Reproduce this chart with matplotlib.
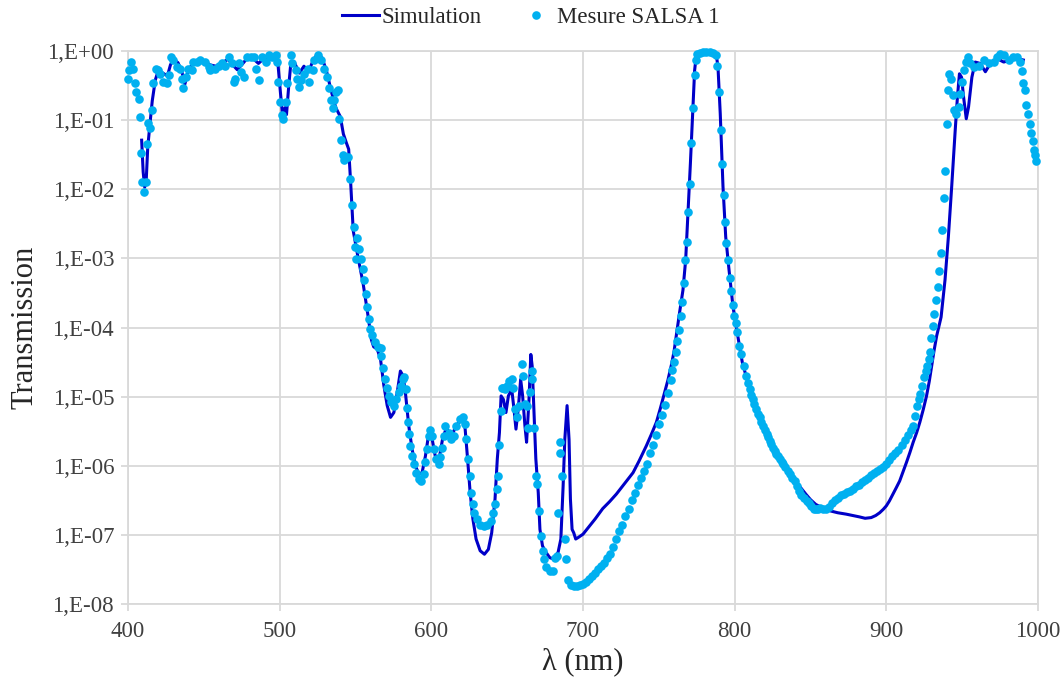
import numpy as np
import matplotlib.pyplot as plt

# Simulation curve: wavelength (nm) and log10 of transmission
sim_wl = [409.0, 410.0, 411.0, 412.0, 413.0, 414.5, 416.0, 418.0, 420.0, 423.0,
          426.0, 428.0, 430.0, 433.0, 435.5, 437.5, 439.5, 442.0, 446.0, 450.0,
          454.0, 458.0, 462.0, 466.0, 469.0, 472.0, 475.0, 478.0, 482.0, 486.0,
          489.0, 493.0, 497.0, 499.0, 500.5, 502.0, 503.5, 504.5, 506.0, 507.5,
          510.0, 513.0, 516.0, 519.0, 522.0, 525.0, 528.0, 531.0, 534.0, 537.0,
          540.0, 542.0, 544.0, 545.5, 546.8, 548.5, 551.8, 555.0, 558.4, 560.5,
          562.0, 564.3, 566.5, 568.7, 570.9, 573.1, 575.3, 577.5, 579.6, 581.4,
          582.9, 585.1, 587.3, 589.5, 591.7, 593.9, 596.1, 598.0, 600.0, 602.5,
          605.0, 607.5, 610.0, 613.0, 616.5, 620.8, 622.3, 623.9, 625.6, 627.4,
          629.5, 632.2, 635.0, 637.6, 639.8, 642.0, 643.5, 644.9, 646.0, 647.5,
          649.2, 650.8, 653.0, 654.5, 655.8, 657.3, 658.9, 660.2, 661.7, 662.8,
          664.4, 665.6, 666.5, 667.6, 668.9, 670.5, 671.6, 673.3, 675.5, 678.1,
          680.7, 683.6, 685.4, 686.9, 688.0, 689.5, 690.8, 691.7, 692.8, 693.9,
          695.2, 696.7, 700.0, 704.0, 708.0, 713.0, 717.5, 722.0, 727.0, 733.0,
          737.0, 741.8, 745.0, 748.4, 751.0, 753.8, 756.0, 758.2, 760.0, 761.5,
          763.7, 765.9, 767.7, 769.2, 770.8, 772.5, 773.6, 774.7, 776.9, 785.7,
          787.9, 789.0, 790.5, 792.3, 794.1, 796.3, 798.9, 801.1, 805.0, 810.0,
          815.0, 820.0, 825.0, 830.0, 835.0, 840.0, 846.9, 850.0, 853.5, 858.0,
          862.4, 868.0, 873.5, 878.0, 882.3, 886.0, 890.0, 893.0, 895.6, 898.0,
          900.0, 902.0, 904.4, 906.5, 908.8, 911.0, 913.3, 915.5, 917.7, 920.0,
          922.1, 924.3, 926.5, 928.3, 929.9, 931.5, 933.2, 936.1, 938.7, 940.9,
          943.1, 945.4, 946.9, 948.2, 949.6, 950.9, 952.7, 954.2, 956.4, 958.6,
          961.9, 965.3, 968.6, 973.0, 977.4, 981.9, 986.3, 990.3]
sim_log = [-1.29, -1.75, -1.97, -1.88, -1.40, -1.05, -0.72, -0.42, -0.28, -0.32,
           -0.36, -0.20, -0.12, -0.17, -0.30, -0.48, -0.30, -0.20, -0.15, -0.14,
           -0.20, -0.22, -0.17, -0.12, -0.20, -0.27, -0.20, -0.12, -0.10, -0.18,
           -0.12, -0.08, -0.06, -0.22, -0.60, -0.95, -0.82, -0.92, -0.50, -0.15,
           -0.18, -0.32, -0.22, -0.30, -0.14, -0.04, -0.10, -0.30, -0.58, -0.82,
           -0.95, -1.20, -1.33, -1.42, -1.90, -2.60, -3.00, -3.36, -3.85, -4.18,
           -4.28, -4.31, -4.46, -4.84, -5.13, -5.30, -5.23, -4.94, -4.63, -4.70,
           -4.94, -5.42, -5.76, -6.00, -6.12, -6.10, -5.86, -5.58, -5.55, -5.85,
           -5.92, -5.60, -5.45, -5.58, -5.42, -5.30, -5.47, -5.90, -6.39, -6.77,
           -7.06, -7.23, -7.28, -7.21, -6.97, -6.48, -5.90, -5.52, -4.99, -5.04,
           -5.23, -4.99, -4.89, -5.18, -5.47, -5.18, -4.75, -4.99, -5.42, -5.66,
           -5.04, -4.39, -4.56, -5.18, -5.90, -6.39, -6.92, -7.16, -7.25, -7.33,
           -7.35, -7.25, -7.06, -6.29, -5.62, -5.13, -5.62, -6.48, -6.92, -6.97,
           -7.06, -7.04, -6.99, -6.88, -6.77, -6.62, -6.52, -6.41, -6.27, -6.10,
           -5.93, -5.71, -5.55, -5.37, -5.17, -4.94, -4.76, -4.55, -4.35, -4.12,
           -3.78, -3.46, -3.02, -2.35, -1.63, -0.81, -0.28, -0.06, -0.01, -0.01,
           -0.06, -0.23, -0.91, -1.96, -2.69, -3.17, -3.70, -4.00, -4.50, -4.90,
           -5.25, -5.50, -5.72, -5.87, -6.05, -6.22, -6.41, -6.49, -6.56, -6.61,
           -6.65, -6.68, -6.70, -6.72, -6.74, -6.76, -6.75, -6.72, -6.68, -6.63,
           -6.58, -6.51, -6.41, -6.32, -6.22, -6.09, -5.95, -5.81, -5.66, -5.52,
           -5.37, -5.19, -4.99, -4.78, -4.55, -4.33, -4.12, -3.85, -3.31, -2.69,
           -1.96, -1.15, -0.66, -0.33, -0.38, -0.66, -0.98, -0.81, -0.38, -0.16,
           -0.18, -0.30, -0.18, -0.11, -0.16, -0.13, -0.11, -0.13]

# Measurement "Mesure SALSA 1": wavelength (nm) and log10 of transmission
mes_wl = [400.0, 400.7, 402.2, 403.3, 404.4, 405.5, 407.1, 407.7, 408.8, 409.3,
          410.6, 411.7, 412.8, 413.3, 414.4, 415.9, 416.6, 418.4, 419.9, 421.0,
          422.8, 425.4, 427.2, 428.3, 429.9, 432.1, 434.3, 435.4, 436.5, 438.3,
          439.8, 442.0, 443.1, 445.4, 447.6, 450.9, 453.1, 454.2, 457.5, 459.7,
          462.0, 464.2, 466.4, 468.6, 469.7, 470.8, 473.0, 474.8, 476.3, 478.5,
          480.8, 483.0, 484.5, 486.3, 488.5, 490.7, 492.9, 495.1, 497.3, 498.5,
          499.1, 500.0, 501.8, 502.4, 504.0, 505.1, 507.3, 508.4, 510.6, 511.7,
          512.8, 513.9, 516.2, 518.4, 519.5, 521.7, 522.8, 525.0, 527.2, 529.5,
          531.2, 532.7, 533.8, 534.9, 536.0, 537.2, 538.3, 539.4, 540.5, 541.6,
          542.7, 544.9, 546.7, 547.6, 548.9, 550.8, 549.4, 552.5, 550.2, 553.4,
          554.7, 555.8, 556.7, 557.8, 558.7, 559.5, 560.6, 562.8, 565.0, 566.5,
          567.0, 568.1, 569.4, 570.5, 572.0, 573.5, 575.3, 577.0, 578.6, 580.1,
          581.4, 582.3, 583.6, 584.0, 584.7, 585.6, 586.2, 587.3, 588.8, 590.2,
          591.7, 593.2, 595.0, 596.1, 597.2, 598.2, 599.3, 600.4, 602.0, 603.3,
          604.8, 605.9, 607.0, 608.1, 609.2, 611.4, 613.1, 614.7, 616.4, 618.6,
          620.6, 621.9, 623.0, 624.1, 625.2, 626.0, 627.4, 628.4, 630.0, 632.2,
          634.4, 637.0, 639.2, 640.9, 642.0, 643.1, 643.8, 644.9, 645.7, 646.4,
          647.5, 648.6, 649.7, 651.5, 653.0, 654.0, 655.1, 656.7, 658.0, 659.5,
          660.2, 661.7, 662.8, 663.9, 665.0, 666.1, 666.7, 667.6, 668.7, 669.8,
          671.1, 672.0, 673.3, 674.4, 675.9, 678.1, 679.9, 681.4, 683.0, 683.6,
          684.7, 685.1, 686.2, 688.0, 689.1, 690.0, 692.0, 694.0, 696.0, 698.0,
          700.0, 702.0, 704.0, 706.0, 708.0, 710.0, 712.0, 714.0, 716.0, 718.0,
          720.0, 722.0, 724.0, 726.0, 728.0, 730.0, 732.0, 734.0, 736.0, 738.0,
          740.0, 742.0, 744.0, 746.0, 748.0, 750.0, 752.0, 754.0, 756.0, 758.0,
          759.0, 760.0, 761.0, 762.0, 763.0, 764.4, 765.5, 766.6, 767.5, 768.6,
          769.5, 770.3, 771.4, 772.7, 773.8, 774.7, 775.2, 776.9, 779.1, 781.3,
          783.5, 785.7, 787.5, 788.6, 789.7, 790.8, 791.9, 792.7, 793.6, 794.3,
          795.4, 796.7, 797.8, 798.9, 799.8, 800.7, 801.8, 802.9, 804.4, 805.9,
          807.7, 809.0, 810.0, 811.0, 812.0, 813.0, 814.3, 815.5, 816.5, 817.5,
          818.7, 820.0, 821.0, 822.0, 823.0, 824.2, 825.3, 826.5, 827.5, 828.5,
          829.7, 831.0, 832.0, 833.5, 835.0, 836.5, 838.0, 839.5, 841.0, 842.5,
          844.0, 845.8, 847.5, 849.0, 850.5, 852.0, 853.5, 855.0, 856.5, 858.0,
          860.0, 862.0, 864.0, 866.0, 868.0, 870.0, 872.0, 874.0, 876.0, 878.0,
          880.0, 882.0, 884.0, 886.0, 888.0, 890.0, 892.0, 894.0, 896.0, 898.0,
          900.0, 902.0, 904.0, 906.0, 908.0, 910.0, 912.0, 914.0, 916.0, 917.7,
          918.8, 920.4, 921.5, 922.5, 923.7, 925.0, 926.0, 927.0, 928.0, 928.8,
          929.6, 930.5, 931.5, 932.6, 933.8, 935.0, 936.1, 936.9, 937.8, 938.9,
          939.8, 940.5, 941.6, 942.7, 944.2, 944.7, 946.0, 947.6, 948.7, 949.8,
          950.9, 952.7, 953.8, 955.3, 957.5, 960.8, 964.2, 967.5, 970.8, 973.0,
          974.8, 977.4, 980.8, 983.6, 986.3, 988.1, 989.2, 990.3, 991.2, 992.3,
          993.1, 994.5, 995.6, 996.5, 997.3, 998.0, 998.9]
mes_log = [-0.41, -0.28, -0.16, -0.26, -0.47, -0.59, -0.70, -0.96, -1.47, -1.89,
           -2.04, -1.89, -1.34, -1.04, -1.12, -0.86, -0.46, -0.26, -0.28, -0.33,
           -0.45, -0.47, -0.35, -0.09, -0.13, -0.23, -0.26, -0.40, -0.54, -0.38,
           -0.26, -0.28, -0.16, -0.16, -0.13, -0.16, -0.23, -0.28, -0.26, -0.21,
           -0.18, -0.21, -0.09, -0.18, -0.45, -0.40, -0.18, -0.30, -0.38, -0.09,
           -0.09, -0.09, -0.26, -0.42, -0.09, -0.16, -0.06, -0.09, -0.06, -0.16,
           -0.45, -0.74, -0.93, -0.99, -0.74, -0.47, -0.06, -0.18, -0.28, -0.40,
           -0.52, -0.42, -0.33, -0.26, -0.45, -0.28, -0.13, -0.06, -0.13, -0.26,
           -0.38, -0.54, -0.71, -0.83, -0.71, -0.59, -0.57, -0.98, -1.29, -1.51,
           -1.58, -1.53, -1.85, -2.23, -2.54, -2.71, -2.83, -2.87, -3.01, -3.01,
           -3.15, -3.31, -3.52, -3.70, -3.87, -4.02, -4.11, -4.21, -4.28, -4.29,
           -4.41, -4.58, -4.74, -4.87, -4.99, -5.08, -5.13, -5.04, -4.94, -4.85,
           -4.75, -4.72, -4.89, -5.16, -5.37, -5.54, -5.71, -5.86, -5.98, -6.10,
           -6.19, -6.22, -6.12, -5.95, -5.76, -5.57, -5.49, -5.57, -5.76, -5.90,
           -5.98, -5.88, -5.74, -5.57, -5.42, -5.52, -5.62, -5.57, -5.42, -5.33,
           -5.30, -5.40, -5.62, -5.90, -6.15, -6.39, -6.56, -6.68, -6.77, -6.85,
           -6.87, -6.85, -6.80, -6.68, -6.56, -6.34, -6.15, -5.70, -5.21, -4.87,
           -4.87, -4.89, -4.84, -4.77, -4.74, -4.87, -5.18, -5.30, -5.13, -4.53,
           -4.70, -5.11, -5.13, -5.45, -4.94, -4.63, -4.75, -5.45, -6.15, -6.27,
           -6.65, -7.01, -7.23, -7.35, -7.47, -7.52, -7.52, -7.33, -7.30, -6.68,
           -5.81, -5.65, -6.15, -7.06, -7.35, -7.66, -7.72, -7.74, -7.74, -7.73,
           -7.71, -7.68, -7.64, -7.60, -7.55, -7.50, -7.45, -7.40, -7.33, -7.27,
           -7.17, -7.06, -6.94, -6.85, -6.73, -6.62, -6.50, -6.40, -6.28, -6.18,
           -6.08, -5.97, -5.82, -5.70, -5.55, -5.40, -5.27, -5.12, -4.95, -4.76,
           -4.62, -4.50, -4.35, -4.20, -4.04, -3.83, -3.63, -3.35, -3.03, -2.76,
           -2.33, -1.92, -1.33, -0.82, -0.35, -0.13, -0.05, -0.03, -0.02, -0.02,
           -0.02, -0.03, -0.06, -0.22, -0.59, -1.15, -1.64, -2.08, -2.48, -2.78,
           -3.03, -3.29, -3.47, -3.68, -3.84, -3.94, -4.07, -4.27, -4.39, -4.55,
           -4.70, -4.80, -4.89, -4.97, -5.04, -5.11, -5.18, -5.25, -5.30, -5.36,
           -5.42, -5.49, -5.54, -5.59, -5.64, -5.69, -5.74, -5.79, -5.83, -5.86,
           -5.90, -5.95, -5.98, -6.02, -6.07, -6.12, -6.17, -6.22, -6.30, -6.36,
           -6.42, -6.47, -6.51, -6.54, -6.58, -6.62, -6.63, -6.62, -6.61, -6.62,
           -6.63, -6.59, -6.54, -6.50, -6.47, -6.43, -6.41, -6.38, -6.36, -6.33,
           -6.30, -6.28, -6.24, -6.20, -6.17, -6.13, -6.10, -6.07, -6.05, -6.02,
           -5.97, -5.91, -5.86, -5.82, -5.77, -5.70, -5.63, -5.56, -5.48, -5.42,
           -5.28, -5.13, -5.04, -4.96, -4.84, -4.72, -4.63, -4.55, -4.45, -4.36,
           -4.15, -3.98, -3.81, -3.60, -3.42, -3.18, -2.92, -2.59, -2.13, -1.73,
           -1.06, -0.56, -0.33, -0.40, -0.64, -0.86, -0.91, -0.81, -0.62, -0.45,
           -0.28, -0.16, -0.09, -0.18, -0.23, -0.21, -0.13, -0.18, -0.16, -0.09,
           -0.04, -0.06, -0.13, -0.09, -0.09, -0.16, -0.29, -0.46, -0.56, -0.78,
           -0.91, -1.05, -1.18, -1.30, -1.43, -1.51, -1.59]

decades = list(range(0, -9, -1))
ytick_labels = ["1,E+00"] + [f"1,E-{-d:02d}" for d in decades[1:]]
xticks = [400, 500, 600, 700, 800, 900, 1000]

grid_color = '#D9D9D9'
plt.rcParams['font.family'] = ['Liberation Serif', 'DejaVu Serif']

fig = plt.figure(figsize=(10.64, 6.82), dpi=100)
ax = fig.add_axes([128 / 1064, 1 - 604 / 682, 910 / 1064, 553 / 682])

ax.plot(sim_wl, 10.0 ** np.array(sim_log), color='#0000C8', lw=2.2,
        label='Simulation', zorder=2)
ax.plot(mes_wl, 10.0 ** np.array(mes_log), ls='none', marker='o', ms=6.2,
        mec='none', color='#00B0F0', label='Mesure SALSA 1', zorder=3,
        clip_on=False)

ax.set_yscale('log')
ax.set_xlim(400, 1000)
ax.set_ylim(1e-8, 1)
ax.set_yticks([10.0 ** d for d in decades])
ax.set_yticklabels(ytick_labels)
ax.yaxis.set_minor_locator(plt.NullLocator())
ax.set_xticks(xticks)

ax.grid(True, color=grid_color, lw=1.3)
ax.set_axisbelow(True)
for side in ax.spines.values():
    side.set_color(grid_color)
    side.set_linewidth(1.3)
ax.tick_params(axis='both', colors=grid_color, labelcolor='#404040',
               labelsize=16.5, length=5, width=1.3)
ax.tick_params(axis='x', pad=7)
ax.tick_params(axis='y', pad=5)

ax.set_xlabel('λ (nm)', fontsize=22, color='#262626', labelpad=4)
ax.set_ylabel('Transmission', fontsize=22, color='#262626', labelpad=6)

fig.legend(loc='upper center', bbox_to_anchor=(531 / 1064, 1.02), ncol=2,
           frameon=False, fontsize=16.5, handlelength=1.6, handletextpad=0.1,
           columnspacing=1.6, labelcolor='#262626')

fig.savefig('out.png', dpi=100)
